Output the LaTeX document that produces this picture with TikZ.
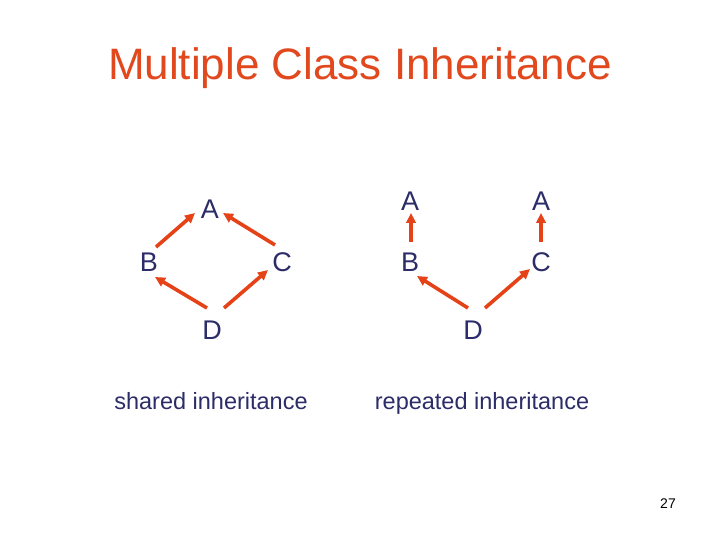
\documentclass[tikz,border=0pt]{standalone}
\usepackage{fontspec}
\setmainfont{Liberation Sans}
\usetikzlibrary{arrows.meta}
\definecolor{titlered}{RGB}{226,72,30}
\definecolor{arrowred}{RGB}{230,66,24}
\definecolor{navy}{RGB}{44,44,104}
\tikzset{
  cls/.style={text=navy, font=\fontsize{27}{30}\selectfont, inner sep=3pt},
  inh/.style={->, draw=arrowred, line width=3.6pt},
  caption/.style={text=navy, font=\fontsize{23.5}{26}\selectfont, inner sep=0pt, anchor=base}
}
\begin{document}
\begin{tikzpicture}[x=1pt, y=-1pt, line join=round, >={Triangle[length=10pt,width=9.5pt]}]
\useasboundingbox[fill=white] (0,0) rectangle (720,540);
\node[text=titlered, font=\fontsize{44}{48}\selectfont] (title) at (360,68) {Multiple Class Inheritance};
% shared inheritance
\node[cls] (sA) at (210,209) {A};
\node[cls] (sB) at (149,262) {B};
\node[cls] (sC) at (282,262) {C};
\node[cls] (sD) at (212,330) {D};
\draw[inh] ([shift={(7,-15)}]sB.center) -- ([shift={(-15,4)}]sA.center);
\draw[inh] ([shift={(-7,-17)}]sC.center) -- ([shift={(13,4)}]sA.center);
\draw[inh] ([shift={(-5,-22)}]sD.center) -- ([shift={(6,15)}]sB.center);
\draw[inh] ([shift={(12,-22)}]sD.center) -- ([shift={(-14,8)}]sC.center);
\node[caption] (shared) at (211,409) {shared inheritance};
% repeated inheritance
\node[cls] (rA1) at (410,201) {A};
\node[cls] (rA2) at (541,201) {A};
\node[cls] (rB) at (410,262) {B};
\node[cls] (rC) at (541,262) {C};
\node[cls] (rD) at (473,330) {D};
\draw[inh] ([shift={(1,-20)}]rB.center) -- ([shift={(1,12)}]rA1.center);
\draw[inh] ([shift={(0,-20)}]rC.center) -- ([shift={(0,12)}]rA2.center);
\draw[inh] ([shift={(-5,-22)}]rD.center) -- ([shift={(7,14)}]rB.center);
\draw[inh] ([shift={(12,-22)}]rD.center) -- ([shift={(-11,7)}]rC.center);
\node[caption] (repeated) at (482,409) {repeated inheritance};
\node[font=\fontsize{14}{16}\selectfont] (page) at (668,504) {27};
\end{tikzpicture}
\end{document}
